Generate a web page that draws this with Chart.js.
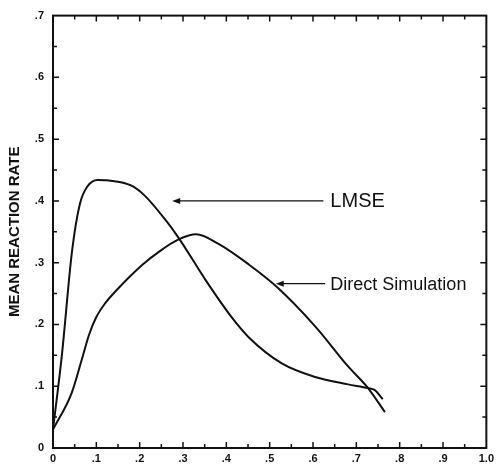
<!DOCTYPE html>
<html>
<head>
<meta charset="utf-8">
<script src="https://cdn.jsdelivr.net/npm/chart.js@4.4.0/dist/chart.umd.min.js"></script>
<style>
html,body{margin:0;padding:0;background:#fff;}
#wrap{width:498px;height:468px;}
</style>
</head>
<body>
<div id="wrap"><canvas id="c" width="498" height="468"></canvas></div>
<script>
// curves
const lmseX = [0, 0.02, 0.044, 0.062, 0.08, 0.103, 0.142, 0.18, 0.211, 0.261, 0.291, 0.353, 0.413, 0.452, 0.528, 0.605, 0.681, 0.727, 0.742, 0.761];
const lmseY = [0.03, 0.147, 0.319, 0.395, 0.424, 0.434, 0.432, 0.425, 0.409, 0.368, 0.339, 0.271, 0.211, 0.179, 0.137, 0.115, 0.103, 0.097, 0.094, 0.079];
const directX = [0, 0.043, 0.066, 0.083, 0.1, 0.12, 0.146, 0.207, 0.245, 0.291, 0.33, 0.383, 0.452, 0.513, 0.605, 0.681, 0.727, 0.766];
const directY = [0.03, 0.089, 0.142, 0.183, 0.212, 0.234, 0.255, 0.297, 0.318, 0.338, 0.346, 0.33, 0.297, 0.263, 0.197, 0.132, 0.097, 0.058];

// tick labels as printed
const xTickLabels = ['0', '.1', '.2', '.3', '.4', '.5', '.6', '.7', '.8', '.9', '1.0'];
const yTickLabels = ['0', '.1', '.2', '.3', '.4', '.5', '.6', '.7'];

// annotations (text + arrow pointing at a curve)
const noteText = ['LMSE', 'Direct Simulation'];
const noteY = [0.4, 0.266];
const noteTextX = [0.64, 0.64];
const noteTailX = [0.624, 0.628];
const noteTipX = [0.275, 0.514];
const noteSize = [20, 18];

const toPts = (xs, ys) => xs.map((v, i) => ({x: v, y: ys[i]}));

const frameAndNotes = {
  id: 'frameAndNotes',
  afterDraw(chart){
    const {ctx, chartArea: a, scales: {x, y}} = chart;
    ctx.save();
    ctx.strokeStyle = '#111';
    ctx.lineWidth = 2;
    ctx.strokeRect(a.left, a.top, a.right - a.left, a.bottom - a.top);

    // inward ticks on all four sides, every .05
    ctx.lineWidth = 1.5;
    ctx.beginPath();
    for(let i = 1; i < 20; i++){
      const px = x.getPixelForValue(i * 0.05);
      const len = i % 2 === 0 ? 6 : 4;
      ctx.moveTo(px, a.bottom); ctx.lineTo(px, a.bottom - len);
      ctx.moveTo(px, a.top); ctx.lineTo(px, a.top + len);
    }
    for(let i = 1; i < 14; i++){
      const py = y.getPixelForValue(i * 0.05);
      const len = i % 2 === 0 ? 6 : 4;
      ctx.moveTo(a.left, py); ctx.lineTo(a.left + len, py);
      ctx.moveTo(a.right, py); ctx.lineTo(a.right - len, py);
    }
    ctx.stroke();

    // labels with arrows
    noteText.forEach((t, i) => {
      const py = y.getPixelForValue(noteY[i]);
      const tail = x.getPixelForValue(noteTailX[i]);
      const tip = x.getPixelForValue(noteTipX[i]);
      ctx.lineWidth = 1.3;
      ctx.beginPath();
      ctx.moveTo(tail, py); ctx.lineTo(tip + 6, py);
      ctx.stroke();
      ctx.fillStyle = '#111';
      ctx.beginPath();
      ctx.moveTo(tip, py); ctx.lineTo(tip + 8, py - 3); ctx.lineTo(tip + 8, py + 3);
      ctx.closePath(); ctx.fill();
      ctx.font = noteSize[i] + 'px "Liberation Sans", Arial, sans-serif';
      ctx.textBaseline = 'middle';
      ctx.textAlign = 'left';
      ctx.fillText(t, x.getPixelForValue(noteTextX[i]), py + 1);
    });
    ctx.restore();
  }
};

const tickFont = {family: '"Liberation Sans", Arial, sans-serif', size: 11, weight: 'bold'};

new Chart(document.getElementById('c'), {
  type: 'line',
  data: {
    datasets: [
      {label: 'LMSE', data: toPts(lmseX, lmseY)},
      {label: 'Direct Simulation', data: toPts(directX, directY)}
    ]
  },
  options: {
    responsive: false,
    animation: false,
    devicePixelRatio: 1,
    layout: {padding: {left: 0, right: 9, top: 14, bottom: 0}},
    elements: {
      line: {borderColor: '#111', borderWidth: 2, cubicInterpolationMode: 'monotone', fill: false},
      point: {radius: 0}
    },
    plugins: {legend: {display: false}, tooltip: {enabled: false}},
    scales: {
      x: {
        type: 'linear', min: 0, max: 1,
        grid: {display: false, drawTicks: false},
        border: {display: false},
        ticks: {stepSize: 0.1, padding: 4, color: '#111', font: tickFont,
          callback: (v, i) => xTickLabels[i]},
        afterFit: s => { s.height = 20; }
      },
      y: {
        type: 'linear', min: 0, max: 0.7,
        grid: {display: false, drawTicks: false},
        border: {display: false},
        ticks: {stepSize: 0.1, padding: 9, color: '#111', font: tickFont,
          callback: (v, i) => yTickLabels[i]},
        title: {display: true, text: 'MEAN REACTION RATE', color: '#111',
          font: {family: '"Liberation Sans", Arial, sans-serif', size: 15, weight: 'bold'},
          padding: {top: 6, bottom: 0}},
        afterFit: s => { s.width = 53; }
      }
    }
  },
  plugins: [frameAndNotes]
});
</script>
</body>
</html>
